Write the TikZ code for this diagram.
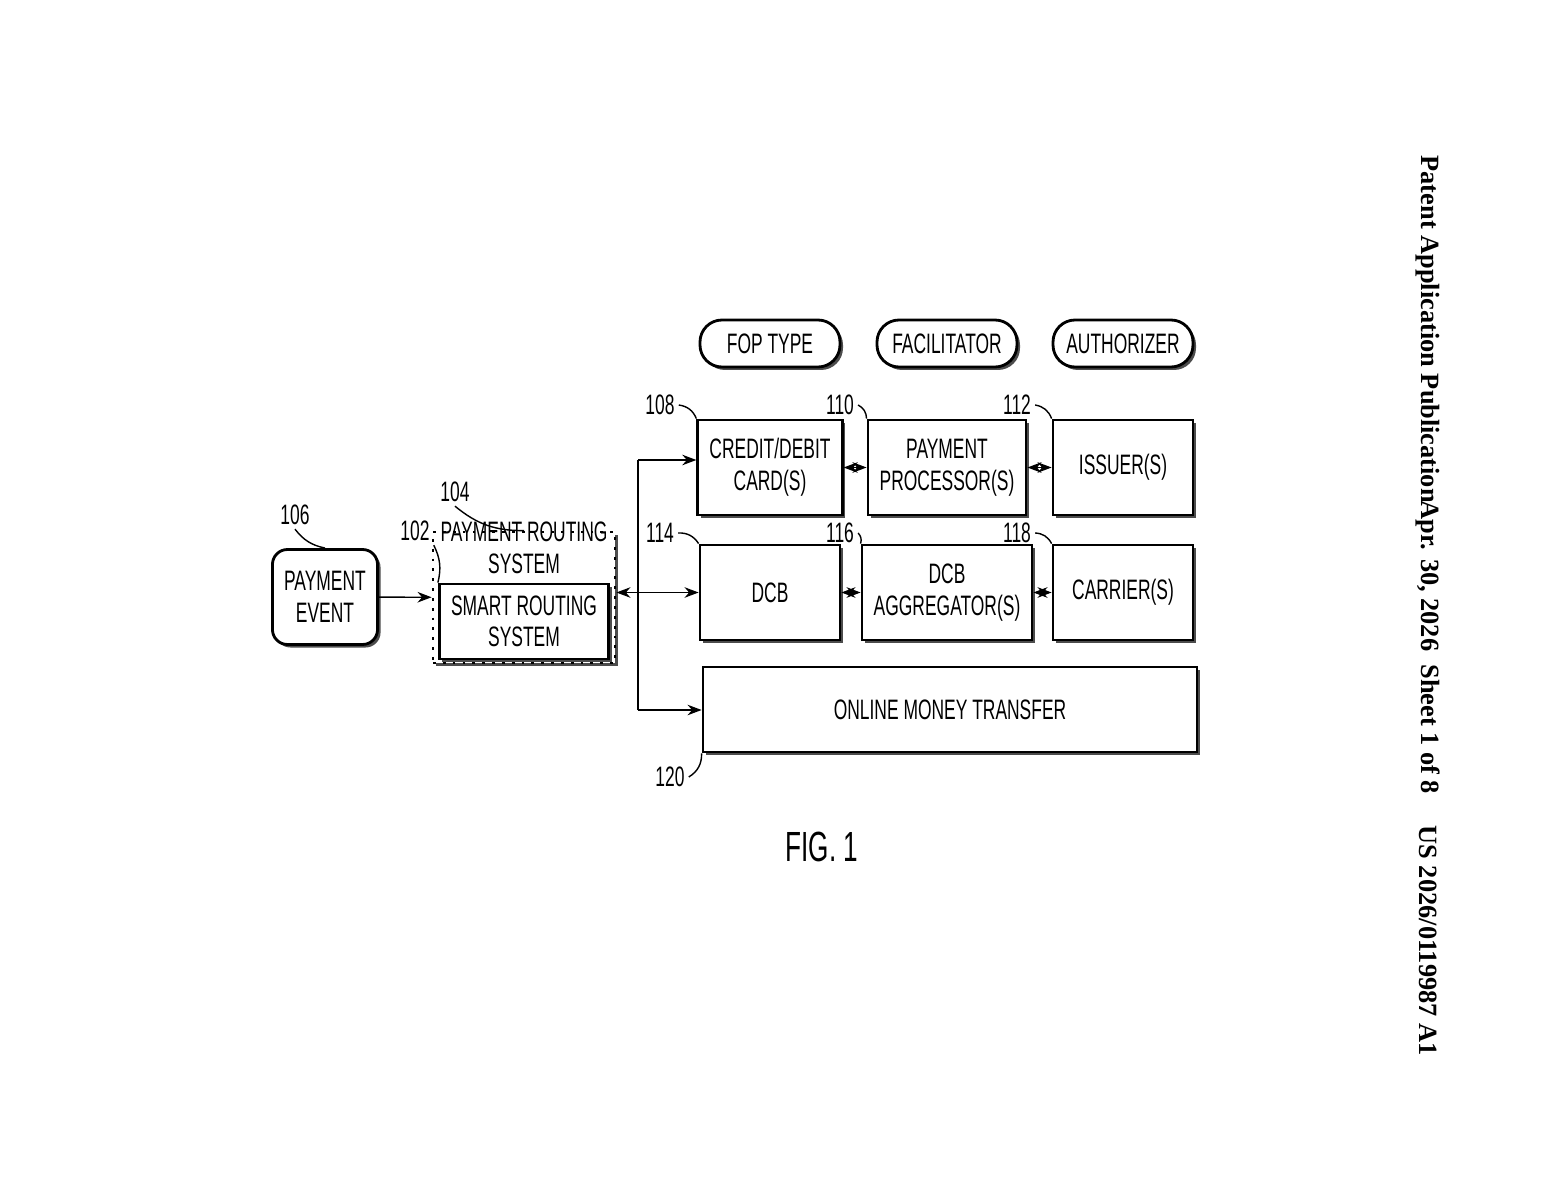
\documentclass[tikz,border=0pt]{standalone}
\usepackage{fontspec}
\newfontfamily\pat[FakeStretch=0.62]{Liberation Sans}
\newfontfamily\hdr{Liberation Serif}
\usetikzlibrary{shadows,arrows.meta}
\tikzset{
  blk/.style={draw,thick,fill=white,minimum width=1.4cm,minimum height=0.95cm,align=center,
    font=\pat\fontsize{8}{9}\selectfont,drop shadow={shadow xshift=0.03cm,shadow yshift=-0.03cm,fill=black!70,opacity=1}},
  pill/.style={blk,rounded corners=0.22cm,minimum height=0.47cm},
  num/.style={font=\pat\fontsize{8}{9}\selectfont,inner sep=1pt},
  lead/.style={thin},
  every path/.style={>={Stealth[length=4pt,width=3pt]}}
}
\begin{document}
\begin{tikzpicture}
    \useasboundingbox (0,0) rectangle (15.47,12);

    % main blocks
    \node[blk,rounded corners=0.15cm,minimum width=1.05cm] (event) at (3.25,6.03) {PAYMENT\\EVENT};
    \node[blk,dotted,minimum width=1.82cm,minimum height=1.31cm] (route) at (5.24,6.025) {};
    \node[num,font=\pat\fontsize{8}{9}\selectfont,align=center] at (5.24,6.52) {PAYMENT ROUTING\\SYSTEM};
    \node[blk,minimum width=1.48cm,minimum height=0.63cm] (smart) at (5.24,5.785) {SMART ROUTING\\SYSTEM};

    % column headers
    \node[pill] (fop) at (7.70,8.565) {FOP TYPE};
    \node[pill] (fac) at (9.47,8.565) {FACILITATOR};
    \node[pill] (aut) at (11.23,8.565) {AUTHORIZER};

    % rows
    \node[blk] (cred) at (7.70,7.325) {CREDIT/DEBIT\\CARD(S)};
    \node[blk] (proc) at (9.47,7.325) {PAYMENT\\PROCESSOR(S)};
    \node[blk] (iss) at (11.23,7.325) {ISSUER(S)};
    \node[blk] (dcb) at (7.70,6.075) {DCB};
    \node[blk] (agg) at (9.47,6.075) {DCB\\AGGREGATOR(S)};
    \node[blk] (car) at (11.23,6.075) {CARRIER(S)};
    \node[blk,minimum width=4.94cm,minimum height=0.85cm] (omt) at (9.50,4.905) {ONLINE MONEY TRANSFER};

    % reference numerals
    \node[num] (n106) at (2.95,6.85) {106};
    \node[num] (n104) at (4.55,7.08) {104};
    \node[num] (n102) at (4.15,6.69) {102};
    \node[num] (n108) at (6.60,7.95) {108};
    \node[num] (n110) at (8.40,7.95) {110};
    \node[num] (n112) at (10.17,7.95) {112};
    \node[num] (n114) at (6.60,6.67) {114};
    \node[num] (n116) at (8.40,6.67) {116};
    \node[num] (n118) at (10.17,6.67) {118};
    \node[num] (n120) at (6.70,4.23) {120};
    \draw[lead] (n106.south) to[bend right=20] (event.north);
    \draw[lead] (n104.south) to[bend right=20] (route.north);
    \draw[lead] (n102.south east) to[bend left=20] (smart.north west);
    \draw[lead] (n108.east) to[bend left=30] (cred.north west);
    \draw[lead] (n110.east) to[bend left=30] (proc.north west);
    \draw[lead] (n112.east) to[bend left=30] (iss.north west);
    \draw[lead] (n114.east) to[bend left=30] (dcb.north west);
    \draw[lead] (n116.east) to[bend left=30] (agg.north west);
    \draw[lead] (n118.east) to[bend left=30] (car.north west);
    \draw[lead] (n120.east) to[bend right=30] (omt.south west);

    % connectors
    \draw[->] (event) -- (route);
    \draw[<->] (route.east|-dcb.west) -- (dcb.west);
    \coordinate (bt) at (6.38,7.40);
    \coordinate (bb) at (6.38,4.90);
    \draw (bb) -- (bt);
    \draw[->] (bt) -- (bt-|cred.west);
    \draw[->] (bb) -- (bb-|omt.west);
    \draw[<->] (cred) -- (proc);
    \draw[<->] (proc) -- (iss);
    \draw[<->] (dcb) -- (agg);
    \draw[<->] (agg) -- (car);

    \node[font=\pat\fontsize{12}{14}\selectfont] (fig) at (8.22,3.53) {FIG. 1};

    % page header
    \begin{scope}[every node/.style={rotate=-90,anchor=west,inner sep=0pt,font=\hdr\bfseries\fontsize{7.5}{9}\selectfont}]
        \node (h1) at (14.28,10.45) {Patent Application Publication};
        \node (h2) at (14.28,7.00) {Apr. 30, 2026\ \ Sheet 1 of 8};
        \node (h3) at (14.28,3.75) {US 2026/0119987 A1};
    \end{scope}
\end{tikzpicture}
\end{document}
